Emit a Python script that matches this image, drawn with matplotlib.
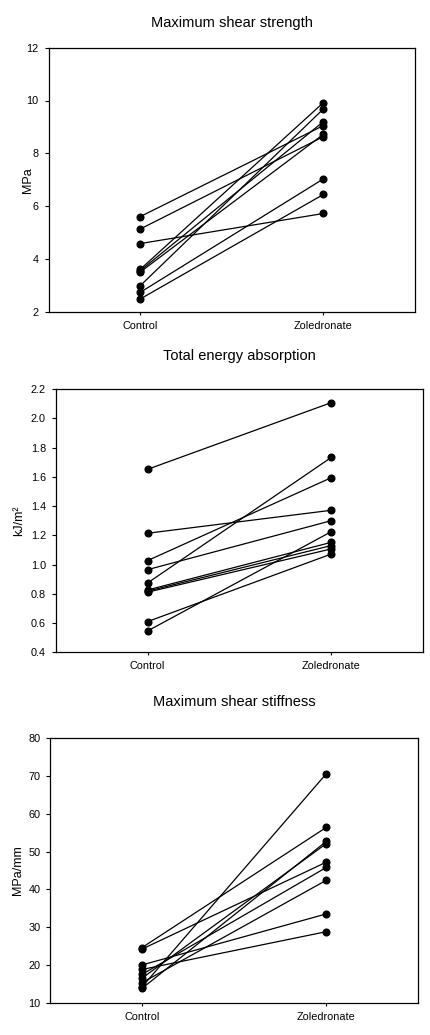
import matplotlib
matplotlib.use("Agg")
import matplotlib.pyplot as plt

plt.rcParams['font.family'] = ['Liberation Sans', 'DejaVu Sans']

groups = ["Control", "Zoledronate"]

# Maximum shear strength (MPa), paired control -> zoledronate
strength_control = [5.60, 5.13, 4.58, 3.60, 3.55, 3.50, 2.98, 2.73, 2.48]
strength_zol = [9.05, 8.63, 5.72, 9.92, 9.20, 8.72, 9.68, 7.03, 6.44]

# Total energy absorption (kJ/m2)
energy_control = [1.651, 1.214, 1.027, 0.965, 0.874, 0.826, 0.818, 0.811, 0.610, 0.546]
energy_zol = [2.107, 1.371, 1.594, 1.300, 1.733, 1.152, 1.130, 1.107, 1.072, 1.225]

# Maximum shear stiffness (MPa/mm)
stiff_control = [24.6, 24.2, 20.0, 18.8, 17.5, 16.5, 15.3, 14.2, 13.8]
stiff_zol = [56.4, 47.2, 33.5, 28.8, 45.8, 52.1, 42.4, 70.6, 52.7]

# title, ylabel, data, limits, ticks, axes box (px), title pad, ylabel x (px)
panels = [
    ("Maximum shear strength", "MPa", strength_control, strength_zol,
     (2, 12), [2, 4, 6, 8, 10, 12], "{:.0f}",
     [48.5, 47.7, 415, 311.7], 15, 34),
    ("Total energy absorption", "kJ/m\u00b2", energy_control, energy_zol,
     (0.4, 2.2), [0.4, 0.6, 0.8, 1.0, 1.2, 1.4, 1.6, 1.8, 2.0, 2.2], "{:.1f}",
     [55.7, 389, 423.3, 652.3], 21, 25),
    ("Maximum shear stiffness", "MPa/mm", stiff_control, stiff_zol,
     (10, 80), [10, 20, 30, 40, 50, 60, 70, 80], "{:.0f}",
     [50, 738.3, 418.3, 1002.7], 23, 24),
]

W, H = 430, 1035
fig = plt.figure(figsize=(W / 100, H / 100), dpi=100)

for title, ylabel, ctrl, zol, ylim, yticks, fmt, box, tpad, ylx in panels:
    x0, y0, x1, y1 = box
    ax = fig.add_axes([x0 / W, 1 - y1 / H, (x1 - x0) / W, (y1 - y0) / H])
    for c, z in zip(ctrl, zol):
        ax.plot([0, 1], [c, z], color="black", lw=0.9,
                marker="o", ms=4.8, mfc="black", mec="black")
    ax.set_xlim(-0.5, 1.5)
    ax.set_ylim(*ylim)
    ax.set_xticks([0, 1])
    ax.set_xticklabels(groups, fontsize=7.8)
    ax.set_yticks(yticks)
    ax.set_yticklabels([fmt.format(v) for v in yticks], fontsize=7.8)
    ax.tick_params(direction="out", length=3, width=0.8, pad=4)
    ax.tick_params(axis="x", length=2.5)
    for s in ax.spines.values():
        s.set_linewidth(0.9)
    ax.set_ylabel(ylabel, fontsize=9)
    ax.yaxis.set_label_coords((ylx - x0) / (x1 - x0), 0.5)
    ax.set_title(title, fontsize=10.5, pad=tpad)

fig.savefig("out.png", dpi=100)
